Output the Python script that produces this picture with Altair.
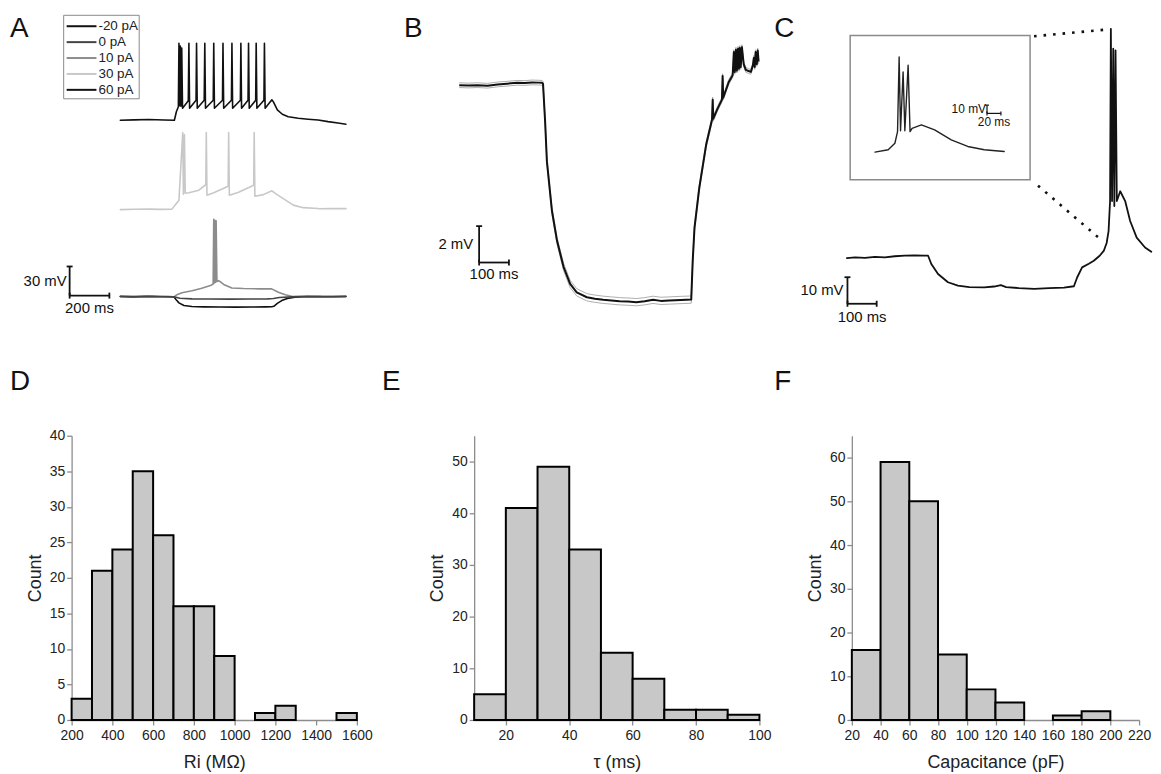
import altair as alt
import pandas as pd

FONT = "Liberation Sans"
INK = "#111111"

# ---------------- Panel A : current-clamp sweeps (t in ms, v in mV from rest) ----------------
A_LABELS = ["-20 pA", "0 pA", "10 pA", "30 pA", "60 pA"]
A_COLORS = ["#111111", "#444444", "#8c8c8c", "#c8c8c8", "#111111"]
A_STACK = [0.0, 0.0, 0.0, 89.6, 181.7]          # display offset of each sweep (mV)
A_DRAW_ORDER = [0, 2, 1, 3, 4]

A_M20 = [(0, 0.0), (60, -0.3), (130, 0.2), (200, -0.2), (270, -0.3), (280, -3.0), (295, -6.5), (320, -9.2),
         (360, -10.2), (420, -10.6), (500, -10.8), (580, -10.9), (660, -10.8), (730, -10.6), (762, -10.5),
         (772, -10.0), (790, -7.0), (812, -4.1), (840, -2.0), (878, -0.7), (920, -0.2), (1000, 0.1),
         (1070, -0.2), (1135, 0.0)]
A_0 = [(0, 0.2), (80, -0.2), (160, 0.3), (240, 0.0), (270, -0.2), (300, -1.8), (360, -2.4), (450, -2.5),
       (550, -2.6), (650, -2.5), (740, -2.4), (770, -2.0), (800, -1.0), (860, -0.3), (940, 0.2),
       (1020, -0.1), (1135, 0.2)]
A_10 = [(0, 0.0), (90, 0.3), (180, -0.2), (272, 0.0), (285, 2.0), (310, 4.0), (361, 6.1), (410, 8.5),
        (453, 11.3), (467, 13.0), (470, 79.5), (473, 14.0), (476, 78.5), (479, 14.5), (482, 78.0),
        (486, 15.5), (495, 16.4), (520, 12.5), (561, 8.9), (620, 8.3), (700, 7.9), (761, 7.9), (795, 4.4),
        (830, 1.8), (862, 0.3), (920, 0.0), (1000, 0.2), (1135, 0.0)]
A_30 = [(0, 0.0), (70, 0.3), (145, 0.5), (200, 0.2), (260, 0.5), (275, 4.6), (295, 9.7), (314, 79.3),
        (317.5, 15.9), (322.5, 77.3), (326.5, 16.9), (345, 17.4), (395, 20.0), (430, 25.6), (432.5, 79.3),
        (436, 14.8), (470, 17.4), (542.5, 24.1), (545, 79.3), (548.5, 14.8), (595, 17.9), (671, 25.1),
        (673.5, 79.3), (677, 13.8), (720, 15.4), (762.5, 19.4), (785, 15.9), (820, 11.3), (870, 4.6),
        (920, 2.0), (995, 1.2), (1000, 0.9), (1060, 1.0), (1135, 1.0)]
A_60 = [(0, 0.0), (70, 0.3), (145, 0.7), (220, 0.2), (272, 0.0), (282, 8.7), (292, 13.8), (295, 79.3),
        (298, 14.8), (302, 76.3), (305, 14.3), (309, 74.2), (313, 12.3), (342, 20.0), (345, 79.3),
        (348.5, 12.3), (381, 20.5), (383.5, 79.3), (387, 12.3), (422, 20.5), (425, 79.3), (428.5, 12.3),
        (467.5, 20.5), (470, 79.3), (473.5, 12.3), (514, 20.5), (516.5, 79.3), (520, 12.3), (559, 20.5),
        (561.5, 79.3), (565, 12.3), (604, 20.5), (606.5, 79.3), (610, 12.3), (642.5, 20.5), (645, 79.3),
        (648.5, 12.3), (681, 20.5), (683.5, 79.3), (687, 12.3), (722.5, 20.5), (725, 79.3), (728.5, 12.3),
        (762.5, 21.0), (770, 18.9), (790, 10.7), (815, 6.1), (845, 3.6), (895, 2.0), (945, 1.0),
        (995, 0.2), (1045, -1.5), (1095, -2.9), (1135, -4.1)]
A_SWEEPS = [A_M20, A_0, A_10, A_30, A_60]

# ---------------- Panel B : averaged hyperpolarising response (t ms, v mV, sem mV) ----------------
B_TRACE = [(0, 0.00, 0.13), (30, -0.02, 0.13), (61, 0.00, 0.13), (95, -0.03, 0.13), (128, 0.04, 0.13),
           (160, 0.08, 0.13), (194, 0.13, 0.13), (220, 0.12, 0.13), (244, 0.15, 0.13), (265, 0.14, 0.13),
           (278, 0.13, 0.13), (281, 0.07, 0.13), (288, -2.0, 0.15), (294, -4.19, 0.15), (311, -6.92, 0.17),
           (328, -8.56, 0.18), (350, -10.0, 0.2), (372, -10.93, 0.2), (394, -11.39, 0.2), (428, -11.66, 0.2),
           (455, -11.74, 0.2), (483, -11.80, 0.2), (510, -11.84, 0.2), (538, -11.88, 0.2), (566, -11.90, 0.2),
           (594, -11.93, 0.2), (622, -11.88, 0.2), (650, -11.80, 0.2), (676, -11.86, 0.2), (704, -11.84, 0.2),
           (744, -11.81, 0.2), (778, -11.79, 0.2), (783, -9.66, 0.18), (789, -7.84, 0.17), (805, -5.65, 0.16),
           (828, -3.28, 0.15), (847.7, -1.9, 0.14), (850, -0.8, 0.14), (852, -1.84, 0.14), (866, -1.3, 0.13),
           (881, -0.8, 0.13), (883.3, 0.5, 0.13), (885.3, -0.69, 0.13), (904, 0.18, 0.13), (917, 0.55, 0.13),
           (921, 1.82, 0.13), (924, 0.73, 0.13), (928, 1.95, 0.13), (931, 0.8, 0.13), (935, 2.0, 0.13),
           (938, 0.9, 0.13), (941, 2.05, 0.13), (944, 1.0, 0.13), (948, 2.09, 0.13), (954, 1.16, 0.13),
           (961, 0.84, 0.13), (970, 0.78, 0.13), (978, 0.73, 0.13), (985, 1.1, 0.13), (988, 1.5, 0.13),
           (991, 1.0, 0.13), (994, 1.82, 0.13), (998, 1.16, 0.13), (1001, 1.9, 0.13), (1004, 1.3, 0.13)]

# ---------------- Panel C : rebound burst (t ms, v mV) and inset ----------------
C_MAIN = [(0, 0.0), (28, 0.3), (62, 0.1), (96, 0.5), (130, 0.3), (164, 0.7), (198, 0.9), (232, 1.0),
          (266, 0.9), (278, 0.9), (289, -2.2), (312, -6.0), (346, -9.1), (380, -10.4), (419, -10.9),
          (470, -11.0), (504, -10.7), (527, -10.2), (545, -10.9), (589, -11.3), (641, -11.6), (692, -11.3),
          (743, -11.1), (777, -10.6), (788, -7.3), (805, -3.5), (828, -2.1), (845, -1.0), (865, 0.9),
          (879, 2.7), (889, 5.7), (895.6, 10.2), (900.7, 21.5), (903.4, 86.4), (907.5, 21.5), (911.6, 78.9),
          (915.3, 19.6), (919.4, 78.3), (923.8, 21.5), (935.4, 25.2), (952.4, 21.5), (969.4, 14.0),
          (991.8, 7.7), (1020.4, 4.0), (1041.8, 2.4)]
C_INSET = [(0, 0.0), (19, 2.9), (28.6, 10.8), (32.4, 24.9), (34.7, 115.3), (36.7, 26.0), (40.4, 97.2),
           (42.9, 26.0), (47.6, 105.3), (50.4, 24.9), (53.3, 28.9), (66.7, 33.0), (85.7, 27.0), (109.6, 14.9),
           (133.3, 6.9), (157.1, 2.9), (185.7, 0.8)]
C_ZOOM_LINES = [(640.5, 83.6, 885.4, 86.1), (654.1, 27.3, 861.6, 7.7)]
C_INSET_BOX = (-35.7, -33.3, 222.9, 141.4)

# ---------------- Histograms ----------------
D_EDGES = list(range(200, 1601, 100))
D_COUNTS = [3, 21, 24, 35, 26, 16, 16, 9, 0, 1, 2, 0, 0, 1]
E_EDGES = list(range(10, 101, 10))
E_COUNTS = [5, 41, 49, 33, 13, 8, 2, 2, 1]
F_EDGES = list(range(20, 201, 20))
F_COUNTS = [16, 59, 50, 15, 7, 4, 0, 1, 2]


def lin(domain, rng):
    return alt.Scale(domain=domain, range=rng, nice=False, zero=False)


def one(**kw):
    return pd.DataFrame({k: [v] for k, v in kw.items()})


def trace(pairs, xs, ys, color, width=1.6, offset=0.0):
    df = pd.DataFrame(pairs, columns=["t", "v"])
    df["v"] = df["v"] + offset
    df["i"] = range(len(df))
    return alt.Chart(df).mark_line(color=color, strokeWidth=width, strokeJoin="round",
                                   strokeCap="round").encode(
        x=alt.X("t:Q", scale=xs, axis=None),
        y=alt.Y("v:Q", scale=ys, axis=None),
        order=alt.Order("i:Q"))


def letter(s, x, y):
    return alt.Chart(one(s=s)).mark_text(align="left", baseline="alphabetic", fontSize=28, font=FONT,
                                         color=INK).encode(x=alt.value(x), y=alt.value(y), text="s:N")


def scalebar(t0, v0, dt, dv, xs, ys, tlab, vlab, fs, tdy, vdx, cap=6, width=1.8):
    seg = pd.DataFrame({"x": [t0, t0], "x2": [t0 + dt, t0], "y": [v0, v0], "y2": [v0, v0 + dv]})
    rules = alt.Chart(seg).mark_rule(color=INK, strokeWidth=width).encode(
        x=alt.X("x:Q", scale=xs, axis=None), x2="x2",
        y=alt.Y("y:Q", scale=ys, axis=None), y2="y2")
    capv = alt.Chart(pd.DataFrame({"x": [t0, t0 + dt], "y": [v0, v0]})).mark_tick(
        orient="vertical", size=cap, thickness=width, color=INK, opacity=1).encode(
        x=alt.X("x:Q", scale=xs, axis=None), y=alt.Y("y:Q", scale=ys, axis=None))
    caph = alt.Chart(one(x=t0, y=v0 + dv)).mark_tick(
        orient="horizontal", size=cap, thickness=width, color=INK, opacity=1).encode(
        x=alt.X("x:Q", scale=xs, axis=None), y=alt.Y("y:Q", scale=ys, axis=None))
    vtext = alt.Chart(one(x=t0, y=v0 + dv / 2, s=vlab)).mark_text(
        align="right", baseline="middle", dx=vdx, fontSize=fs, font=FONT, color=INK).encode(
        x=alt.X("x:Q", scale=xs, axis=None), y=alt.Y("y:Q", scale=ys, axis=None), text="s:N")
    ttext = alt.Chart(one(x=t0 + dt / 2, y=v0, s=tlab)).mark_text(
        align="center", baseline="middle", dy=tdy, fontSize=fs, font=FONT, color=INK).encode(
        x=alt.X("x:Q", scale=xs, axis=None), y=alt.Y("y:Q", scale=ys, axis=None), text="s:N")
    return [rules, capv, caph, vtext, ttext]


# ---- Panel A
AX = lin([0, 1000], [49, 249])
AY = lin([0, 30], [288, 258.7])
leg_box = alt.Chart(one(a=0)).mark_rect(fill="white", stroke="#8a8a8a", strokeWidth=1).encode(
    x=alt.value(-8), x2=alt.value(68), y=alt.value(5), y2=alt.value(89))
leg_df = pd.DataFrame({"label": A_LABELS, "color": A_COLORS})
leg_y = alt.Y("label:N", scale=alt.Scale(type="point", domain=A_LABELS, range=[16, 80], padding=0), axis=None)
leg_lines = alt.Chart(leg_df).mark_rule(strokeWidth=2).encode(
    x=alt.value(-5), x2=alt.value(25), y=leg_y, color=alt.Color("color:N", scale=None))
leg_text = alt.Chart(leg_df).mark_text(align="left", baseline="middle", fontSize=13.5, font=FONT,
                                       color="#222222").encode(x=alt.value(27), y=leg_y, text="label:N")
a_traces = [trace(A_SWEEPS[k], AX, AY, A_COLORS[k], 1.6, A_STACK[k]) for k in A_DRAW_ORDER]
panelA = alt.layer(leg_box, leg_lines, leg_text, *a_traces,
                   *scalebar(-255, 1, 200, 30, AX, AY, "200 ms", "30 mV", 15, 13, -3),
                   letter("A", -62, 26.5)).resolve_scale(x="independent", y="independent").properties(
    width=311.7, height=428)

# ---- Panel B
BX = lin([0, 1000], [-15, 285])
BY = lin([0, -10], [75.3, 258.3])
b_df = pd.DataFrame(B_TRACE, columns=["t", "v", "sem"])
b_df["lo"] = b_df["v"] - b_df["sem"]
b_df["hi"] = b_df["v"] + b_df["sem"]
b_df["i"] = range(len(b_df))
b_band = alt.Chart(b_df).mark_area(color="#c4c4c4", opacity=1).encode(
    x=alt.X("t:Q", scale=BX, axis=None), y=alt.Y("lo:Q", scale=BY, axis=None), y2="hi",
    order=alt.Order("i:Q"))
b_edges = [alt.Chart(b_df).mark_line(color="#9a9a9a", strokeWidth=0.8).encode(
    x=alt.X("t:Q", scale=BX, axis=None), y=alt.Y(f"{f}:Q", scale=BY, axis=None), order=alt.Order("i:Q"))
    for f in ("lo", "hi")]
b_line = alt.Chart(b_df).mark_line(color=INK, strokeWidth=2, strokeJoin="round").encode(
    x=alt.X("t:Q", scale=BX, axis=None), y=alt.Y("v:Q", scale=BY, axis=None), order=alt.Order("i:Q"))
panelB = alt.layer(b_band, *b_edges, b_line,
                   *scalebar(66.7, -9.75, 100, 2, BX, BY, "100 ms", "2 mV", 15, 12, -6),
                   letter("B", -70.7, 26.5)).resolve_scale(x="independent", y="independent").properties(
    width=287, height=428)

# ---- Panel C
CX = lin([0, 1000], [-5, 289])
CY = lin([0, 10], [249.3, 222.6])
CIX = lin([0, 200], [23.3, 163.3])
CIY = lin([0, 100], [142.7, 59.7])
box = alt.Chart(one(x=C_INSET_BOX[0], y=C_INSET_BOX[1], x2=C_INSET_BOX[2], y2=C_INSET_BOX[3])).mark_rect(
    fillOpacity=0, stroke="#8a8a8a", strokeWidth=1.5).encode(
    x=alt.X("x:Q", scale=CIX, axis=None), x2="x2", y=alt.Y("y:Q", scale=CIY, axis=None), y2="y2")
zl = pd.DataFrame(C_ZOOM_LINES, columns=["x", "y", "x2", "y2"])
zoom_lines = alt.Chart(zl).mark_rule(color=INK, strokeWidth=2.6, strokeDash=[2.6, 7]).encode(
    x=alt.X("x:Q", scale=CX, axis=None), x2="x2", y=alt.Y("y:Q", scale=CY, axis=None), y2="y2")
panelC = alt.layer(box, trace(C_INSET, CIX, CIY, "#222222", 1.4),
                   *scalebar(161, 47, 20, 10, CIX, CIY, "20 ms", "10 mV", 12, 9, -1, cap=4, width=1.2),
                   zoom_lines, trace(C_MAIN, CX, CY, INK, 1.8),
                   *scalebar(2, -17.2, 100, 10, CX, CY, "100 ms", "10 mV", 15, 13, -4),
                   letter("C", -78, 26.5)).resolve_scale(x="independent", y="independent").properties(
    width=289, height=428)


# ---- Histograms
def hist(edges, counts, xdom, xticks, ydom, yticks, xtitle, let, lx, width):
    df = pd.DataFrame({"lo": edges[:-1], "hi": edges[1:], "n": counts})
    df = df[df["n"] > 0]
    bars = alt.Chart(df).mark_rect(fill="#c8c8c8", stroke="#000000", strokeWidth=2).encode(
        x=alt.X("lo:Q", scale=alt.Scale(domain=xdom, nice=False, zero=False),
                axis=alt.Axis(values=xticks, title=xtitle, titlePadding=11, format="d", labelPadding=4)),
        x2="hi",
        y=alt.Y("n:Q", scale=alt.Scale(domain=ydom, nice=False),
                axis=alt.Axis(values=yticks, title="Count", titlePadding=5, format="d")),
        y2=alt.datum(0))
    return alt.layer(bars, letter(let, lx, -46)).properties(width=width, height=286)


panelD = hist(D_EDGES, D_COUNTS, [200, 1600], list(range(200, 1601, 200)), [0, 40], list(range(0, 41, 5)),
              "Ri (MΩ)", "D", -62, 287)
panelE = hist(E_EDGES, E_COUNTS, [10, 100], [20, 40, 60, 80, 100], [0, 55], list(range(0, 51, 10)),
              "τ (ms)", "E", -92.7, 287)
panelF = hist(F_EDGES, F_COUNTS, [20, 220], list(range(20, 221, 20)), [0, 65], list(range(0, 61, 10)),
              "Capacitance (pF)", "F", -78, 289)

chart = alt.concat(panelA, panelB, panelC, panelD, panelE, panelF, columns=3,
                   spacing={"row": 0, "column": 93}, bounds="flush", align="each").properties(
    padding={"left": 2, "top": 0, "right": 0, "bottom": 0}
).configure_view(stroke=None).configure_axis(
    grid=False, domainColor="#8c8c8c", domainWidth=1.3, tickColor="#8c8c8c", tickWidth=1.3, tickSize=5,
    labelFont=FONT, labelFontSize=14, labelColor="#222222", labelPadding=2, labelFlush=False,
    labelOverlap=False, titleFont=FONT, titleFontSize=18, titleFontWeight="normal", titleColor="#222222"
)

chart.save("out.html", embed_options={"renderer": "svg", "actions": False})
